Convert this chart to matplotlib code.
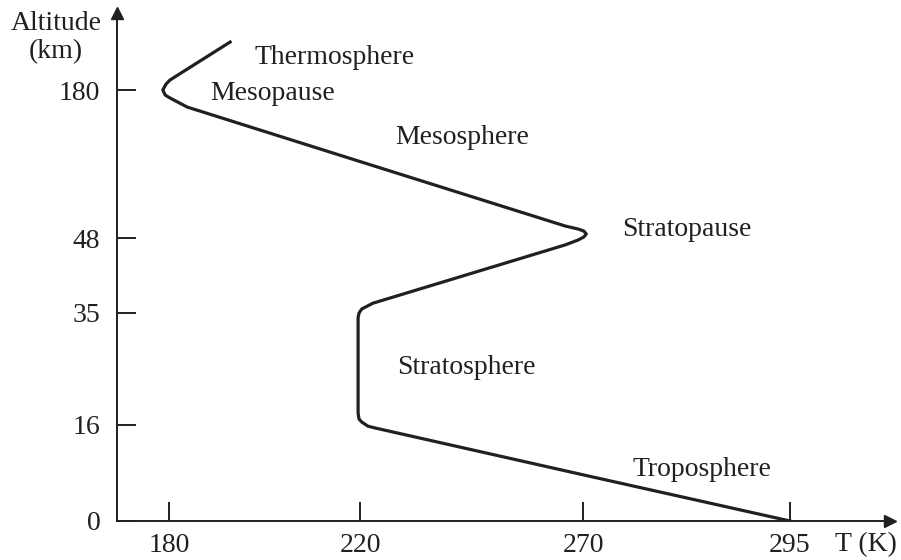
import numpy as np
import matplotlib
matplotlib.use("Agg")
import matplotlib.pyplot as plt

# =========================
# DATA
# =========================
temp_K = [192.8, 180.2, 179.4, 178.7, 179.2, 180.2, 183.8, 220.0, 266.0, 268.9,
          270.1, 270.4, 270.1, 268.9, 266.0, 222.9, 220.4, 219.8, 219.6, 219.6,
          219.8, 220.4, 221.8, 223.4, 270.0, 295.0]
alt_km = [222.8, 188.9, 185.4, 180.0, 175.5, 172.9, 164.8, 116.2, 58.7, 56.0,
          54.2, 51.6, 48.9, 47.65, 46.8, 36.7, 35.7, 35.0, 34.2, 18.0,
          17.0, 16.5, 15.8, 15.5, 7.7, 0.0]

x_ticks = [180, 220, 270, 295]
y_ticks = [0, 16, 35, 48, 180]

layers = ["Thermosphere", "Mesopause", "Mesosphere", "Stratopause",
          "Stratosphere", "Troposphere"]
layer_T = [198.0, 188.6, 227.8, 274.7, 228.3, 276.0]
layer_h = [209.4, 177.3, 137.2, 56.0, 25.7, 8.5]

# =========================
# SCALES (schematic, not linear)
# =========================
x_scale_val = [169.1, 180, 220, 270, 295, 307.1]
x_scale_pos = [0, 52, 243, 466, 673, 773]
y_scale_val = [0, 16, 35, 48, 180, 248.7]
y_scale_pos = [0, 96, 208, 283, 431, 508]


def fwd(v, p):
    return lambda a: np.interp(a, v, p)


plt.rcParams["font.family"] = ["Liberation Serif", "DejaVu Serif"]
ink = "#231f20"

fig = plt.figure(figsize=(9.01, 5.6), dpi=100)
ax = fig.add_axes([117 / 901, 39 / 560, 773 / 901, 508 / 560])

ax.set_xscale("function", functions=(fwd(x_scale_val, x_scale_pos), fwd(x_scale_pos, x_scale_val)))
ax.set_yscale("function", functions=(fwd(y_scale_val, y_scale_pos), fwd(y_scale_pos, y_scale_val)))
ax.set_xlim(x_scale_val[0], x_scale_val[-1])
ax.set_ylim(y_scale_val[0], y_scale_val[-1])

# =========================
# PLOT
# =========================
ax.plot(temp_K, alt_km, color=ink, linewidth=2.3, solid_joinstyle="round")

for name, t, h in zip(layers, layer_T, layer_h):
    ax.text(t, h, name, fontsize=20, color=ink, ha="left", va="center")

ax.set_xticks(x_ticks)
ax.set_yticks(y_ticks)
ax.tick_params(direction="in", length=13.5, width=1.4, color=ink,
               labelsize=20, labelcolor=ink)
ax.tick_params(axis="x", pad=9)
ax.tick_params(axis="y", pad=12)

for s in ["top", "right"]:
    ax.spines[s].set_visible(False)
for s in ["left", "bottom"]:
    ax.spines[s].set_linewidth(1.4)
    ax.spines[s].set_color(ink)

ax.plot(1, 0, ">", color=ink, markersize=8, transform=ax.transAxes, clip_on=False)
ax.plot(0, 1, "^", color=ink, markersize=8, transform=ax.transAxes, clip_on=False)

ax.text(866 / 901, 1 - 545 / 560, "T (K)", fontsize=20, color=ink,
        ha="center", va="center", transform=fig.transFigure)
ax.text(56 / 901, 1 - 23 / 560, "Altitude", fontsize=20, color=ink,
        ha="center", va="center", transform=fig.transFigure)
ax.text(56 / 901, 1 - 52 / 560, "(km)", fontsize=20, color=ink,
        ha="center", va="center", transform=fig.transFigure)

fig.savefig("out.png", dpi=100)
